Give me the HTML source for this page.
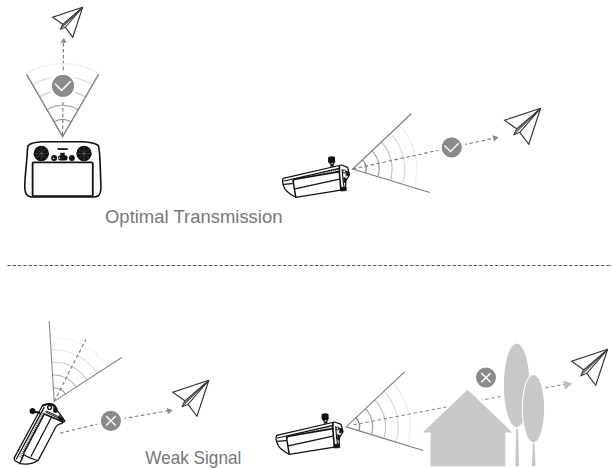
<!DOCTYPE html>
<html><head><meta charset="utf-8"><style>
html,body{margin:0;padding:0;background:#fff;width:612px;height:468px;overflow:hidden}
svg{display:block}
</style></head><body><svg width="612" height="468" viewBox="0 0 612 468"><path d="M82.6 7.3L52.72 17.26L62.68 24.32M65.34 27.22L72.81 37.18L82.6 7.3" stroke="#333" stroke-width="1.15" fill="none" stroke-linejoin="miter"/><path d="M82.6 7.3L62.68 24.32L60.36 29.38L65.34 27.22Z" stroke="#333" stroke-width="1.035" fill="#fff" stroke-linejoin="round"/><path d="M82.6 7.3L61.91 25.99" stroke="#333" stroke-width="0.7" fill="none"/><path d="M82.6 7.3L61.15 27.66" stroke="#333" stroke-width="0.7" fill="none"/><path d="M82.6 7.3L60.36 29.38" stroke="#333" stroke-width="0.8" fill="none"/><path d="M63.5 43L62.6 136.7" stroke="#777" stroke-width="1.1" stroke-dasharray="3.6 2.3" stroke-dashoffset="0" fill="none"/><path d="M63.7 38L66.9 42.8L60.5 42.8Z" fill="#888"/><path d="M54 121.8A17.2 17.2 0 0 1 71.2 121.8" stroke="#8c8c8c" stroke-width="1.25" fill="none"/><path d="M47 109.68A31.2 31.2 0 0 1 78.2 109.68" stroke="#a8a8a8" stroke-width="1.25" fill="none"/><path d="M39.6 96.86A46 46 0 0 1 85.6 96.86" stroke="#c8c8c8" stroke-width="1.25" fill="none"/><path d="M32.5 84.57A60.2 60.2 0 0 1 92.7 84.57" stroke="#dedede" stroke-width="1.25" fill="none"/><path d="M26.1 73.48A73 73 0 0 1 99.1 73.48" stroke="#f0f0f0" stroke-width="1.25" fill="none"/><path d="M26.6 74.35L62.6 136.7L98.6 74.35" stroke="#7e7e7e" stroke-width="1.3" fill="none" stroke-linejoin="miter"/><circle cx="63" cy="85.9" r="12.4" fill="#8a8a8a" stroke="#fff" stroke-width="3"/><circle cx="63" cy="85.9" r="10.9" fill="#8a8a8a"/><path d="M54.96 83.81L61.68 90.3L70.71 81.28" stroke="#fff" stroke-width="1.54" fill="none"/><g fill="none" stroke="#111" stroke-linejoin="round"><path d="M28.1 145.5 Q32 142.3 42 141.8 L83.6 141.8 Q93.5 142.3 98.3 145.5 Q99.6 150 100.1 162.7 L100.9 185.6 Q101.2 193 98.5 195.8 Q96.5 197 93 197 L33 197 Q28.5 197 26.5 194.5 Q24.6 191.5 24.8 185 L25.2 177 L27.2 154.5 Q27.4 148 28.1 145.5Z" stroke-width="1.6"/><rect x="32.6" y="162.3" width="60.2" height="33.9" rx="1.2" stroke-width="1.8"/></g><g fill="#111"><circle cx="41.3" cy="153.5" r="7.7"/><circle cx="84" cy="153.5" r="7.7"/><circle cx="54.1" cy="157.9" r="3"/><circle cx="71.9" cy="158" r="2.9"/><rect x="60.3" y="152.8" width="4.4" height="3.2"/><rect x="58" y="155.3" width="9.6" height="5.2" rx="2.5"/><rect x="57.5" y="148.2" width="10.3" height="1.7"/></g><g fill="none" stroke="#fff" stroke-width="0.45" opacity="0.4"><path d="M41.3 146.5v14M34.5 153.5h13.6M84 146.5v14M77.2 153.5h13.6M36.5 148.7l9.6 9.6M46.1 148.7l-9.6 9.6M79.2 148.7l9.6 9.6M88.8 148.7l-9.6 9.6"/></g><circle cx="53.6" cy="158.4" r="0.7" fill="#fff"/><circle cx="59.4" cy="158.3" r="0.8" fill="#fff"/><text x="105" y="223.2" font-family="Liberation Sans, sans-serif" font-size="17.8" fill="#777777" textLength="177.5" lengthAdjust="spacingAndGlyphs">Optimal Transmission</text><path d="M7.4 265.5L612 265.5" stroke="#555" stroke-width="1.0" stroke-dasharray="3.4 1.9" stroke-dashoffset="0" fill="none"/><path d="M362.45 159.81A13.4 13.4 0 0 1 365.51 172.92" stroke="#858585" stroke-width="1.25" fill="none"/><path d="M371.99 150.83A26.5 26.5 0 0 1 378.04 176.75" stroke="#a6a6a6" stroke-width="1.25" fill="none"/><path d="M381.37 141.98A39.4 39.4 0 0 1 390.38 180.52" stroke="#c6c6c6" stroke-width="1.25" fill="none"/><path d="M390.54 133.34A52 52 0 0 1 402.43 184.2" stroke="#dddddd" stroke-width="1.25" fill="none"/><path d="M399.28 125.11A64 64 0 0 1 413.9 187.71" stroke="#efefef" stroke-width="1.25" fill="none"/><path d="M411.29 113.79L352.7 169L429.68 192.54" stroke="#7e7e7e" stroke-width="1.15" fill="none" stroke-linejoin="miter"/><path d="M352.7 169L451.6 147.4" stroke="#777" stroke-width="1.1" stroke-dasharray="3.5 2.6" stroke-dashoffset="0" fill="none"/><path d="M451.6 147.4L493 138.4" stroke="#777" stroke-width="1.1" stroke-dasharray="3.5 2.6" stroke-dashoffset="0" fill="none"/><path d="M498.6 137.2L493.91 141.5L492.54 135.25Z" fill="#888"/><circle cx="451.7" cy="147.4" r="11.9" fill="#8a8a8a" stroke="#fff" stroke-width="4"/><circle cx="451.7" cy="147.4" r="9.9" fill="#8a8a8a"/><path d="M444.4 145.5L450.5 151.4L458.7 143.2" stroke="#fff" stroke-width="1.4" fill="none"/><path d="M540.6 108.3L504.6 120.3L516.6 128.8M519.8 132.3L528.8 144.3L540.6 108.3" stroke="#333" stroke-width="1.15" fill="none" stroke-linejoin="miter"/><path d="M540.6 108.3L516.6 128.8L513.8 134.9L519.8 132.3Z" stroke="#333" stroke-width="1.035" fill="#fff" stroke-linejoin="round"/><path d="M540.6 108.3L515.68 130.81" stroke="#333" stroke-width="0.7" fill="none"/><path d="M540.6 108.3L514.75 132.83" stroke="#333" stroke-width="0.7" fill="none"/><path d="M540.6 108.3L513.8 134.9" stroke="#333" stroke-width="0.8" fill="none"/><g id="sc" fill="none" stroke="#111" stroke-width="1.25" stroke-linejoin="round" stroke-linecap="round"><path d="M283.2 178.4 L341.3 165 L347.6 167.4 L349.5 175 L345.7 180.8 L345.7 189.5 L340.9 190.2 L295.7 197.3 Q288 193 285 189 L283 184.4 Q282 180 283.2 178.4 Z"/><path d="M284 181 L339.6 168.4"/><path d="M293.1 180.9 Q293.5 179.6 295 179.3 L339.4 171.6" stroke-width="1.6"/><path d="M283.3 184.4 L292.3 183.6"/><path d="M293.1 180.9 L295.7 197.2" stroke-width="1.5"/><path d="M295 188.9 L339.4 179.2"/><path d="M339.4 165.8 Q339.2 172 339.6 175.5 L340.9 190.2" stroke-width="1.6"/><path d="M342.2 169.5 L343 180 L344.3 189" stroke-width="1.1"/><circle cx="344.2" cy="171.5" r="1.5" stroke-width="1"/><path d="M346 171.2 L349 172 L349.2 175 L346.5 176Z" fill="#111" stroke-width="0.7"/><path d="M344 177.5 L346.5 178.5 L345.7 183 L343.6 182Z" fill="#111" stroke-width="0.6"/><path d="M341 187.3 L345.9 187.3 L346.2 190.6 L341 191Z" fill="#111" stroke-width="0.8"/><path d="M328.8 157.5 Q331.5 156.4 334.3 157.3 L334.6 161.5 Q334 163 333.3 163.2 L330 163.2 Q329 163 328.7 161.5Z" fill="#111"/><path d="M330.7 162.6 L333.5 162.6 L333.6 166.2 L330.9 166.4Z" fill="#111" stroke-width="0.6"/><circle cx="332.1" cy="163.8" r="0.7" fill="#fff" stroke="none"/></g><g stroke="#111" stroke-width="0.7" opacity="0.9"><path d="M293 178.6L294 180.6"/><path d="M295.1 178.12L296.1 180.12"/><path d="M297.19 177.65L298.19 179.65"/><path d="M299.29 177.17L300.29 179.17"/><path d="M301.38 176.7L302.38 178.7"/><path d="M303.48 176.22L304.48 178.22"/><path d="M305.57 175.74L306.57 177.74"/><path d="M307.67 175.27L308.67 177.27"/><path d="M309.76 174.79L310.76 176.79"/><path d="M311.86 174.31L312.86 176.31"/><path d="M313.95 173.84L314.95 175.84"/><path d="M316.05 173.36L317.05 175.36"/><path d="M318.14 172.89L319.14 174.89"/><path d="M320.24 172.41L321.24 174.41"/><path d="M322.33 171.93L323.33 173.93"/><path d="M324.43 171.46L325.43 173.46"/><path d="M326.52 170.98L327.52 172.98"/><path d="M328.62 170.5L329.62 172.5"/><path d="M330.71 170.03L331.71 172.03"/><path d="M332.81 169.55L333.81 171.55"/><path d="M334.9 169.08L335.9 171.08"/><path d="M337 168.6L338 170.6"/></g><path d="M53.36 388.03A13.4 13.4 0 0 1 65.43 394.08" stroke="#8f8f8f" stroke-width="1.05" fill="none"/><path d="M52.55 375.15A26.3 26.3 0 0 1 76.23 387.04" stroke="#b0b0b0" stroke-width="1.05" fill="none"/><path d="M51.74 362.38A39.1 39.1 0 0 1 86.95 380.05" stroke="#cdcdcd" stroke-width="1.05" fill="none"/><path d="M50.98 350.2A51.3 51.3 0 0 1 97.17 373.38" stroke="#e2e2e2" stroke-width="1.05" fill="none"/><path d="M50.21 337.93A63.6 63.6 0 0 1 107.48 366.67" stroke="#f1f1f1" stroke-width="1.05" fill="none"/><path d="M49.15 321.06L54.2 401.4L121.64 357.44" stroke="#858585" stroke-width="1.05" fill="none" stroke-linejoin="miter"/><path d="M54.2 401.4L85.8 339.5" stroke="#777" stroke-width="1.1" stroke-dasharray="3.5 2.6" stroke-dashoffset="0" fill="none"/><g fill="none" stroke="#111" stroke-width="1.25" stroke-linejoin="round" stroke-linecap="round"><path d="M42.1 406.3 Q44 404.4 47 404.2 Q52 403.8 55.2 407 L57.2 410.8 L60.4 414.7 L64.9 421.1 L61.7 423.6 L60.1 423.8 Q57.2 424.4 56 426.8 L38.5 459.9 Q31 465.5 20.1 463.6 L15 460.8 L14.1 458.1 Z"/><path d="M16.5 458.8 L44 407.6"/><path d="M23.8 452.8 L44.3 414" stroke-width="1.6"/><path d="M23.8 454.4 L20.1 462.7" stroke-width="1.5"/><path d="M23.8 454.4 Q29 458 37.8 460.5"/><path d="M31.1 456.3 L51.4 417.2"/><path d="M44.3 414 L62.9 421.7" stroke-width="1.6"/><path d="M43.2 405.5 Q47 403.6 52 404.2 Q55.5 405.5 57.2 410.8" stroke-width="2"/><circle cx="49.6" cy="407.4" r="1.9" stroke-width="1.3"/><path d="M53.6 407.6 L56.2 409 L56.6 412.6 L54 412.2Z" fill="#111" stroke-width="0.7"/><path d="M46.5 411.8 L62.5 419.2" stroke-width="2.2"/><path d="M46.5 411.8 L62.5 419.2" stroke="#fff" stroke-width="0.6" stroke-dasharray="0.8 1.2"/><path d="M59.5 415.5 L63.5 420.5 L61.8 422.4 L58.5 419.5Z" fill="#111" stroke-width="0.7"/><path d="M29.6 410.8 Q29.6 408.2 32.4 407.9 Q35.4 408.1 35.5 411 Q35.4 414 32.4 414.2 Q29.6 413.9 29.6 410.8Z" fill="#111" stroke="none"/><path d="M34.6 411.8 L39.2 412.8" stroke-width="2.2"/></g><g stroke="#111" stroke-width="0.75" opacity="0.9"><path d="M19.5 456.5L21.8 457.4"/><path d="M20.4 454.76L22.7 455.66"/><path d="M21.3 453.02L23.6 453.92"/><path d="M22.2 451.28L24.5 452.18"/><path d="M23.1 449.54L25.4 450.44"/><path d="M24 447.8L26.3 448.7"/><path d="M24.9 446.06L27.2 446.96"/><path d="M25.8 444.32L28.1 445.22"/><path d="M26.7 442.58L29 443.48"/><path d="M27.6 440.84L29.9 441.74"/><path d="M28.5 439.1L30.8 440"/><path d="M29.4 437.36L31.7 438.26"/><path d="M30.3 435.62L32.6 436.52"/><path d="M31.2 433.88L33.5 434.78"/><path d="M32.1 432.14L34.4 433.04"/><path d="M33 430.4L35.3 431.3"/><path d="M33.9 428.66L36.2 429.56"/><path d="M34.8 426.92L37.1 427.82"/><path d="M35.7 425.18L38 426.08"/><path d="M36.6 423.44L38.9 424.34"/><path d="M37.5 421.7L39.8 422.6"/><path d="M38.4 419.96L40.7 420.86"/><path d="M39.3 418.22L41.6 419.12"/><path d="M40.2 416.48L42.5 417.38"/><path d="M41.1 414.74L43.4 415.64"/><path d="M42 413L44.3 413.9"/></g><path d="M60 433.2L110.9 420.8" stroke="#777" stroke-width="1.1" stroke-dasharray="3.5 2.6" stroke-dashoffset="0" fill="none"/><path d="M110.9 420.8L168 410.7" stroke="#777" stroke-width="1.1" stroke-dasharray="3.5 2.6" stroke-dashoffset="0" fill="none"/><path d="M172.7 410.2L167.88 414.35L166.71 408.06Z" fill="#888"/><circle cx="110.9" cy="420.8" r="12.1" fill="#8a8a8a" stroke="#fff" stroke-width="4"/><path d="M106.15 416.05L115.65 425.55M115.65 416.05L106.15 425.55" stroke="#fff" stroke-width="1.4" fill="none"/><path d="M208.8 380.3L172.8 392.3L184.8 400.8M188 404.3L197 416.3L208.8 380.3" stroke="#333" stroke-width="1.15" fill="none" stroke-linejoin="miter"/><path d="M208.8 380.3L184.8 400.8L182 406.9L188 404.3Z" stroke="#333" stroke-width="1.035" fill="#fff" stroke-linejoin="round"/><path d="M208.8 380.3L183.88 402.81" stroke="#333" stroke-width="0.7" fill="none"/><path d="M208.8 380.3L182.95 404.83" stroke="#333" stroke-width="0.7" fill="none"/><path d="M208.8 380.3L182 406.9" stroke="#333" stroke-width="0.8" fill="none"/><text x="145.3" y="463.6" font-family="Liberation Sans, sans-serif" font-size="17.8" fill="#777777" textLength="96" lengthAdjust="spacingAndGlyphs">Weak Signal</text><path d="M355.95 417.71A13.4 13.4 0 0 1 359.01 430.82" stroke="#858585" stroke-width="1.25" fill="none"/><path d="M365.49 408.73A26.5 26.5 0 0 1 371.54 434.65" stroke="#a6a6a6" stroke-width="1.25" fill="none"/><path d="M374.87 399.88A39.4 39.4 0 0 1 383.88 438.42" stroke="#c6c6c6" stroke-width="1.25" fill="none"/><path d="M384.04 391.24A52 52 0 0 1 395.93 442.1" stroke="#dddddd" stroke-width="1.25" fill="none"/><path d="M392.78 383.01A64 64 0 0 1 407.4 445.61" stroke="#efefef" stroke-width="1.25" fill="none"/><path d="M404.79 371.69L346.2 426.9L423.18 450.44" stroke="#7e7e7e" stroke-width="1.15" fill="none" stroke-linejoin="miter"/><use href="#sc" transform="translate(-6.5 257)"/><g transform="translate(-6.5 257)" stroke="#111" stroke-width="0.7" opacity="0.9"><path d="M293 178.6L294 180.6"/><path d="M295.1 178.12L296.1 180.12"/><path d="M297.19 177.65L298.19 179.65"/><path d="M299.29 177.17L300.29 179.17"/><path d="M301.38 176.7L302.38 178.7"/><path d="M303.48 176.22L304.48 178.22"/><path d="M305.57 175.74L306.57 177.74"/><path d="M307.67 175.27L308.67 177.27"/><path d="M309.76 174.79L310.76 176.79"/><path d="M311.86 174.31L312.86 176.31"/><path d="M313.95 173.84L314.95 175.84"/><path d="M316.05 173.36L317.05 175.36"/><path d="M318.14 172.89L319.14 174.89"/><path d="M320.24 172.41L321.24 174.41"/><path d="M322.33 171.93L323.33 173.93"/><path d="M324.43 171.46L325.43 173.46"/><path d="M326.52 170.98L327.52 172.98"/><path d="M328.62 170.5L329.62 172.5"/><path d="M330.71 170.03L331.71 172.03"/><path d="M332.81 169.55L333.81 171.55"/><path d="M334.9 169.08L335.9 171.08"/><path d="M337 168.6L338 170.6"/></g><path d="M353.5 424.8L566 384" stroke="#808080" stroke-width="1.0" stroke-dasharray="3.5 2.6" stroke-dashoffset="0" fill="none"/><path d="M467.5 389.8 L512.4 432.4 L505.3 432.4 L505.3 466.3 L430.6 466.3 L430.6 432.4 L422.7 432.4 Z" fill="#c8c8c8" stroke="#fff" stroke-width="4" stroke-linejoin="round"/><path d="M467.5 389.8 L512.4 432.4 L505.3 432.4 L505.3 466.3 L430.6 466.3 L430.6 432.4 L422.7 432.4 Z" fill="#c8c8c8"/><path d="M516.4 420 L517.9 420 L519 466.3 L515.3 466.3 Z" fill="#c8c8c8"/><ellipse cx="516.7" cy="385.4" rx="12.8" ry="41.9" fill="#c8c8c8" stroke="#fff" stroke-width="4"/><ellipse cx="516.7" cy="385.4" rx="12.8" ry="41.9" fill="#c8c8c8"/><path d="M533 436 L534.4 436 L535.5 466.3 L531.9 466.3 Z" fill="#c8c8c8"/><ellipse cx="533.5" cy="408.6" rx="10.9" ry="34" fill="#c8c8c8" stroke="#fff" stroke-width="1.6"/><ellipse cx="533.5" cy="408.6" rx="10.6" ry="33.7" fill="#c8c8c8"/><path d="M572.4 383.6L564.91 389.71L563.19 380.67Z" fill="#bdbdbd"/><circle cx="486" cy="377.6" r="12" fill="#8a8a8a" stroke="#fff" stroke-width="4"/><path d="M481.3 372.9L490.7 382.3M490.7 372.9L481.3 382.3" stroke="#fff" stroke-width="1.4" fill="none"/><path d="M607.6 349.3L571.6 361.3L583.6 369.8M586.8 373.3L595.8 385.3L607.6 349.3" stroke="#333" stroke-width="1.15" fill="none" stroke-linejoin="miter"/><path d="M607.6 349.3L583.6 369.8L580.8 375.9L586.8 373.3Z" stroke="#333" stroke-width="1.035" fill="#fff" stroke-linejoin="round"/><path d="M607.6 349.3L582.68 371.81" stroke="#333" stroke-width="0.7" fill="none"/><path d="M607.6 349.3L581.75 373.83" stroke="#333" stroke-width="0.7" fill="none"/><path d="M607.6 349.3L580.8 375.9" stroke="#333" stroke-width="0.8" fill="none"/></svg></body></html>
